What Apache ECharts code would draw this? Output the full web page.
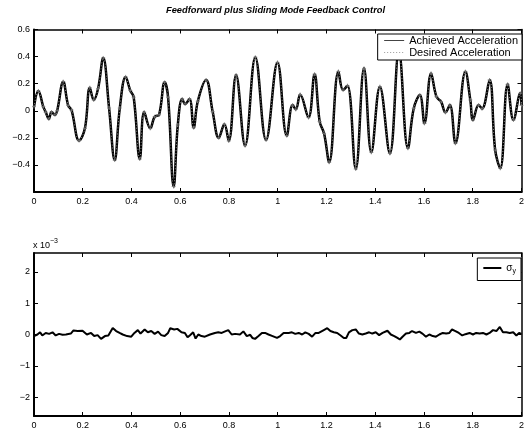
<!DOCTYPE html>
<html>
<head>
<meta charset="UTF-8">
<title>Feedforward plus Sliding Mode Feedback Control</title>
<script src="https://cdn.jsdelivr.net/npm/echarts@6/dist/echarts.min.js"></script>
<style>
  html, body { margin: 0; padding: 0; background: #fff; }
  #main { width: 527px; height: 435px; }
</style>
</head>
<body>
<div id="main"></div>
<script type="text/javascript">
// values (time in s)
var accTime = [0.000, 0.018, 0.038, 0.048, 0.061, 0.072, 0.086, 0.095, 0.120, 0.140, 0.154, 0.185, 0.209, 0.229, 0.245, 0.263, 0.284, 0.308, 0.331, 0.352, 0.376, 0.395, 0.409, 0.434, 0.452, 0.477, 0.495, 0.513, 0.536, 0.550, 0.573, 0.590, 0.608, 0.620, 0.638, 0.655, 0.672, 0.706, 0.733, 0.758, 0.781, 0.799, 0.829, 0.866, 0.908, 0.952, 0.999, 1.037, 1.061, 1.074, 1.092, 1.126, 1.151, 1.172, 1.190, 1.211, 1.249, 1.268, 1.286, 1.320, 1.354, 1.384, 1.419, 1.460, 1.497, 1.534, 1.558, 1.583, 1.602, 1.629, 1.651, 1.670, 1.688, 1.706, 1.729, 1.770, 1.790, 1.801, 1.824, 1.838, 1.869, 1.892, 1.913, 1.943, 1.967, 1.995, 2.000];
var achieved = [0.03, 0.146, 0.03, -0.01, -0.06, -0.01, -0.03, 0.00, 0.215, 0.04, 0.005, -0.22, -0.13, 0.17, 0.08, 0.165, 0.39, 0.02, -0.364, 0.02, 0.25, 0.15, 0.10, -0.356, -0.01, -0.13, -0.044, -0.03, 0.21, 0.10, -0.56, -0.105, 0.087, 0.05, 0.087, -0.125, 0.07, 0.227, -0.007, -0.2, -0.1, -0.223, 0.264, -0.258, 0.395, -0.216, 0.357, -0.184, 0.042, 0.01, 0.12, -0.05, 0.27, -0.08, -0.167, -0.38, 0.29, 0.153, 0.185, -0.43, 0.313, -0.307, 0.178, -0.315, 0.44, -0.277, 0.018, 0.116, -0.093, 0.276, 0.104, 0.067, -0.012, 0.042, -0.24, 0.289, 0.08, -0.068, 0.042, 0.015, 0.227, -0.29, -0.425, 0.195, -0.068, 0.129, 0.04];
var desired = achieved.slice(); // the two curves lie on top of each other

// sigma_y, in units of 1e-3
var sigTime = [0.000, 0.014, 0.025, 0.034, 0.048, 0.062, 0.076, 0.089, 0.103, 0.117, 0.131, 0.151, 0.162, 0.179, 0.199, 0.217, 0.234, 0.247, 0.261, 0.275, 0.291, 0.305, 0.323, 0.337, 0.351, 0.364, 0.382, 0.399, 0.412, 0.426, 0.437, 0.454, 0.467, 0.481, 0.495, 0.509, 0.522, 0.536, 0.550, 0.559, 0.575, 0.588, 0.605, 0.619, 0.630, 0.639, 0.653, 0.663, 0.674, 0.687, 0.701, 0.722, 0.742, 0.756, 0.770, 0.784, 0.797, 0.811, 0.825, 0.845, 0.859, 0.873, 0.887, 0.896, 0.907, 0.921, 0.935, 0.948, 0.962, 0.979, 0.997, 1.010, 1.024, 1.045, 1.058, 1.072, 1.086, 1.100, 1.113, 1.127, 1.141, 1.155, 1.168, 1.189, 1.203, 1.216, 1.230, 1.244, 1.258, 1.271, 1.281, 1.292, 1.306, 1.320, 1.333, 1.347, 1.361, 1.375, 1.388, 1.402, 1.416, 1.430, 1.450, 1.464, 1.478, 1.491, 1.501, 1.512, 1.526, 1.540, 1.551, 1.567, 1.581, 1.595, 1.608, 1.622, 1.636, 1.649, 1.663, 1.677, 1.691, 1.704, 1.715, 1.729, 1.743, 1.757, 1.770, 1.787, 1.801, 1.814, 1.828, 1.842, 1.856, 1.869, 1.883, 1.897, 1.911, 1.924, 1.938, 1.952, 1.966, 1.979, 1.990, 2.000];
var sigma = [-0.05, 0.00, 0.07, -0.03, 0.05, 0.02, 0.07, -0.03, 0.02, -0.01, 0.00, 0.03, 0.13, 0.11, 0.12, 0.00, 0.05, -0.05, -0.02, -0.14, -0.05, -0.03, 0.21, 0.11, 0.05, 0.00, -0.05, -0.07, 0.05, 0.14, 0.03, 0.16, 0.07, 0.11, 0.02, 0.09, -0.02, -0.05, 0.05, 0.20, 0.16, 0.18, 0.07, 0.05, -0.09, -0.03, 0.07, -0.13, 0.00, -0.05, -0.07, 0.00, 0.05, 0.07, 0.05, 0.10, 0.14, 0.00, 0.02, 0.00, 0.10, -0.05, -0.01, -0.11, -0.14, -0.05, 0.05, 0.05, 0.00, -0.05, -0.11, -0.05, 0.05, 0.05, 0.07, 0.02, 0.05, 0.00, 0.07, 0.02, -0.07, 0.05, 0.05, 0.14, 0.20, 0.11, 0.07, 0.05, -0.03, -0.11, -0.11, 0.07, 0.14, 0.16, 0.03, 0.00, 0.03, 0.07, 0.03, 0.07, -0.02, 0.05, 0.12, 0.00, -0.05, -0.11, -0.16, -0.07, 0.03, 0.05, 0.11, 0.05, 0.09, 0.02, -0.07, 0.00, -0.05, -0.07, 0.00, 0.05, 0.03, 0.05, 0.16, 0.11, 0.05, -0.03, 0.01, 0.05, 0.00, 0.05, 0.03, 0.05, 0.00, 0.05, 0.14, 0.11, 0.24, 0.07, 0.07, 0.05, 0.07, -0.03, 0.05, 0.02];

var sigTicks = [-2, -1, 0, 1, 2];

function pairs(xs, ys) {
	var out = [];
	for (var i = 0; i < xs.length; i++) out.push([xs[i], ys[i]]);
	return out;
}
function minus(v) {
	return String(v).replace('-', '\u2212');
}

var font = 'Liberation Sans';
var lbl = { color: '#000', fontFamily: font, fontSize: 9 };
var plus = 'path://M5,0L5,10M0,5L10,5';

function xAxisPair(grid) {
	return [{
		type: 'value', gridIndex: grid, min: 0, max: 2, interval: 0.2,
		axisLine: { onZero: false, lineStyle: { color: '#000', width: 2 } },
		axisTick: { inside: true, length: 4, lineStyle: { color: '#000' } },
		axisLabel: Object.assign({ margin: 5 }, lbl),
		splitLine: { show: false }
	}, {
		type: 'value', gridIndex: grid, position: 'top', min: 0, max: 2, interval: 0.2,
		axisLine: { onZero: false, lineStyle: { color: '#000', width: 1.5 } },
		axisTick: { inside: true, length: 4, lineStyle: { color: '#000' } },
		axisLabel: { show: false },
		splitLine: { show: false }
	}];
}
function yAxisPair(grid, min, max, extra) {
	var tick = { show: true, inside: true, length: 4, lineStyle: { color: '#000' } };
	var label = Object.assign({ margin: 4, formatter: minus }, lbl);
	if (extra.custom) {
		tick.customValues = extra.custom;
		label.customValues = extra.custom;
	}
	if (extra.hideMin) label.showMinLabel = false;
	var a = {
		type: 'value', gridIndex: grid, min: min, max: max,
		axisLine: { show: true, onZero: false, lineStyle: { color: '#000', width: 2 } },
		axisTick: tick, axisLabel: label,
		splitLine: { show: false }
	};
	var b = {
		type: 'value', gridIndex: grid, position: 'right', min: min, max: max,
		axisLine: { show: true, onZero: false, lineStyle: { color: '#000', width: 1.5 } },
		axisTick: Object.assign({}, tick), axisLabel: { show: false },
		splitLine: { show: false }
	};
	if (extra.interval) { a.interval = extra.interval; b.interval = extra.interval; }
	return [a, b];
}

var myChart = echarts.init(document.getElementById('main'));

myChart.setOption({
	animation: false,
	backgroundColor: '#fff',
	title: {
		text: 'Feedforward plus Sliding Mode Feedback Control',
		left: 161, top: 1,
		textStyle: { fontFamily: font, fontSize: 9.3, fontWeight: 'bold', fontStyle: 'italic', color: '#000' }
	},
	grid: [
		{ left: 34, right: 4, top: 29.5, height: 162.5 },
		{ left: 34, right: 4, top: 253, height: 163 }
	],
	legend: [{
		data: [
			{ name: 'Achieved Acceleration', lineStyle: { color: '#444', width: 1, type: 'solid' } },
			{ name: 'Desired Acceleration', lineStyle: { color: '#999', width: 1, type: [1, 2] } }
		],
		orient: 'vertical', right: 5, top: 34,
		itemWidth: 20, itemHeight: 8, itemGap: 1,
		padding: [1, 4, 2, 6],
		backgroundColor: '#fff', borderColor: '#000', borderWidth: 1, borderRadius: 0,
		itemStyle: { opacity: 0, borderWidth: 0 },
		textStyle: { color: '#000', fontFamily: font, fontSize: 11, padding: [1, 0, 0, 0] }
	}, {
		data: ['sigma'],
		right: 6, top: 258,
		itemWidth: 18, itemHeight: 8,
		padding: [5, 5, 6, 5],
		backgroundColor: '#fff', borderColor: '#000', borderWidth: 1, borderRadius: 0,
		itemStyle: { opacity: 0, borderWidth: 0 },
		formatter: function() { return '{a|\u03c3}{b|y}'; },
		textStyle: {
			color: '#000', fontFamily: font, fontSize: 10,
			rich: { a: { fontFamily: font, fontSize: 10 }, b: { fontFamily: font, fontSize: 7, padding: [6, 0, 0, 0] } }
		}
	}],
	graphic: [{
		type: 'text', left: 33, top: 238,
		style: {
			text: '{a|x 10}{b|\u22123}',
			rich: { a: { fontFamily: font, fontSize: 9, fill: '#000', padding: [4, 0, 0, 0] }, b: { fontFamily: font, fontSize: 7, fill: '#000', padding: [0, 0, 4, 0] } }
		}
	}],
	xAxis: xAxisPair(0).concat(xAxisPair(1)),
	yAxis: yAxisPair(0, -0.6, 0.6, { interval: 0.2, hideMin: true })
		.concat(yAxisPair(1, -2.6, 2.6, { custom: sigTicks })),
	series: [{
		name: 'Achieved Acceleration',
		type: 'line', xAxisIndex: 0, yAxisIndex: 0,
		data: pairs(accTime, achieved),
		smooth: 0.4,
		showSymbol: false, symbol: 'none',
		lineStyle: { color: '#000', width: 2.5 },
		itemStyle: { color: '#000' }
	}, {
		name: 'Desired Acceleration',
		type: 'line', xAxisIndex: 0, yAxisIndex: 0,
		data: pairs(accTime, desired),
		smooth: 0.4,
		symbol: plus, symbolSize: 4, showSymbol: true,
		lineStyle: { color: '#8c8c8c', width: 1, type: [1, 2] },
		itemStyle: { color: 'none', borderColor: '#777', borderWidth: 0.8 }
	}, {
		name: 'sigma',
		type: 'line', xAxisIndex: 2, yAxisIndex: 2,
		data: pairs(sigTime, sigma),
		showSymbol: false, symbol: 'none',
		lineStyle: { color: '#000', width: 2 },
		itemStyle: { color: '#000' }
	}]
});
</script>
</body>
</html>
